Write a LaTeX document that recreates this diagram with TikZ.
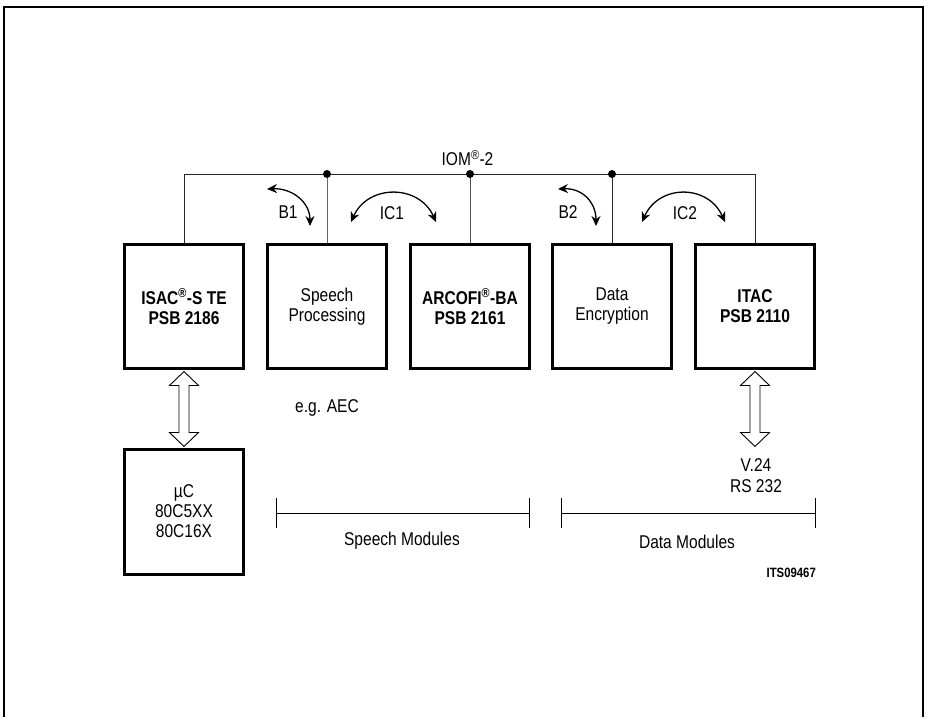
\documentclass[tikz,border=0pt]{standalone}
\usepackage{fontspec}
\setmainfont[FakeStretch=0.84]{Liberation Sans}
\usetikzlibrary{arrows.meta,calc}
\newcommand{\regmark}{\textsuperscript{®}}
\begin{document}
\begin{tikzpicture}[x=1pt,y=-1pt,
  chip/.style={draw,line width=3pt,minimum width=119pt,minimum height=124pt,inner sep=0pt,align=center,
     font=\fontsize{18.5}{20}\selectfont},
  ucbox/.style={chip,minimum height=125pt},
  wire/.style={line width=1pt,draw=black!85},
  dot/.style={circle,fill=black,inner sep=0pt,minimum size=8pt},
  lbl/.style={font=\fontsize{18.5}{20.5}\selectfont,align=center,inner sep=0pt},
  small/.style={font=\bfseries\fontsize{13.5}{15}\selectfont,inner sep=0pt},
  swing/.style={line width=1.3pt,{Stealth[length=10pt,width=9pt]}-{Stealth[length=10pt,width=9pt]}},
  hollow/.style={line width=0.9pt,fill=white,line join=miter},
  bar/.style={line width=1pt},
  frame/.style={line width=1.4pt}
]
\useasboundingbox (0,0) rectangle (928,717);
% open frame
\draw[frame] (4,717) -- (4,7) -- (923,7) -- (923,717);

% chips
\node[chip] (isac)   at (184,306.5) {\bfseries ISAC\regmark-S TE\\\bfseries PSB 2186};
\node[chip] (speech) at (327,306.5) {Speech\\Processing};
\node[chip] (arcofi) at (470,306.5) {\bfseries ARCOFI\regmark-BA\\\bfseries PSB 2161};
\node[chip] (data)   at (612,306.5) {Data\\Encryption};
\node[chip] (itac)   at (755,306.5) {\bfseries ITAC\\\bfseries PSB 2110};
\node[ucbox] (uc)    at (184,511.5) {µC\\80C5XX\\80C16X};

% IOM-2 bus
\coordinate (bus) at (0,174);
\draw[wire] (isac.north) |- (itac.north |- bus) -- (itac.north);
\node[dot] (d1) at (speech.north |- bus) {};
\node[dot] (d2) at (arcofi.north |- bus) {};
\node[dot] (d3) at (data.north |- bus) {};
\draw[wire,draw=black!60] (d1) -- (speech.north);
\draw[wire,draw=black!70] (d2) -- (arcofi.north);
\draw[wire] (d3) -- (data.north);
\node[lbl] (iom) at (467.5,158) {IOM\regmark-2};

% channel swings
\coordinate (b1s) at (267,189); \coordinate (b1e) at (310,226);
\draw[swing] (b1s) .. controls (292,188) and (310,202) .. (b1e);
\node[lbl] (b1) at (288,212) {B1};
\coordinate (ic1s) at (351,222); \coordinate (ic1e) at (436,222);
\draw[swing] (ic1s) .. controls (368,184) and (419,184) .. (ic1e);
\node[lbl] (ic1) at (392,213) {IC1};
\coordinate (b2s) at (558,189); \coordinate (b2e) at (596,226);
\draw[swing] (b2s) .. controls (582,188) and (596,202) .. (b2e);
\node[lbl] (b2) at (568,212) {B2};
\coordinate (ic2s) at (642,222); \coordinate (ic2e) at (725,222);
\draw[swing] (ic2s) .. controls (659,184) and (708,184) .. (ic2e);
\node[lbl] (ic2) at (685,213) {IC2};

% hollow double arrows
\draw[hollow] ($(isac.south)+(0,1.5)$) -- ++(14.5,14) -- ++(-9.5,0) -- ++(0,47) -- ++(9.5,0)
  -- ++(-14.5,14) -- ++(-14.5,-14) -- ++(9.5,0) -- ++(0,-47) -- ++(-9.5,0) -- cycle;
\draw[hollow] ($(itac.south)+(0,1.5)$) -- ++(14.5,14) -- ++(-9.5,0) -- ++(0,47) -- ++(9.5,0)
  -- ++(-14.5,14) -- ++(-14.5,-14) -- ++(9.5,0) -- ++(0,-47) -- ++(-9.5,0) -- cycle;
\node[lbl] (v24) at (756,475.5) {V.24\\RS 232};

\node[lbl] (aec) at (327,408) {e.g. AEC};

% module ranges
\coordinate (sl) at (276,513); \coordinate (sr) at (529,513);
\draw[bar] (sl) -- (sr);
\draw[bar] ($(sl)+(0,-15)$) -- ($(sl)+(0,15)$);
\draw[bar] ($(sr)+(0,-15)$) -- ($(sr)+(0,15)$);
\node[lbl] (sm) at (402,541) {Speech Modules};
\coordinate (dl) at (561,513); \coordinate (dr) at (815,513);
\draw[bar] (dl) -- (dr);
\draw[bar] ($(dl)+(0,-15)$) -- ($(dl)+(0,15)$);
\draw[bar] ($(dr)+(0,-15)$) -- ($(dr)+(0,15)$);
\node[lbl] (dm) at (687,542) {Data Modules};

\node[small,anchor=east] (its) at (816,573) {ITS09467};
\end{tikzpicture}
\end{document}
